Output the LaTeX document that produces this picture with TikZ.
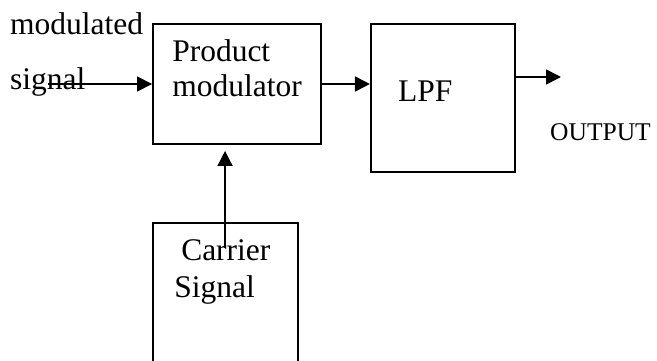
\documentclass[tikz,border=0pt]{standalone}
\usepackage{fontspec}
\setmainfont{Liberation Serif}
\usepackage{tikz}
\usetikzlibrary{positioning, arrows.meta, calc}

\begin{document}
\begin{tikzpicture}[
    x=1pt, y=-1pt,
    box/.style={draw, line width=1.9pt, inner sep=0pt},
    txt/.style={inner sep=0pt, anchor=base west, align=left, font=\fontsize{31.5}{36}\selectfont},
    signal/.style={-{Triangle[length=15pt, width=15pt]}, line width=1.7pt},
]
    \useasboundingbox (0,0) rectangle (657,361);
    \clip (0,0) rectangle (657,361);

    % Product modulator
    \node[box, minimum width=168pt, minimum height=120pt] (pm) at (237,84) {};
    \node[txt] (pmtext) at ($(pm.north west)+(20,73)$) {Product\\[-1pt]modulator};

    % LPF
    \node[box, minimum width=144pt, minimum height=148pt, right=48pt of pm.north east, anchor=north west] (lpf) {};
    \node[txt] (lpftext) at ($(lpf.north west)+(28,78)$) {LPF};

    % Carrier signal
    \node[box, minimum width=145pt, minimum height=160pt, below=77pt of pm.south west, anchor=north west] (carrier) {};
    \node[txt] (carriertext) at ($(carrier.north west)+(22,76)$) {\hspace{7pt}Carrier\\[1pt]Signal};

    % Input and output labels
    \node[txt] (modtext) at (10,35) {modulated};
    \node[txt] (sigtext) at (10,90) {signal};
    \node[txt, font=\fontsize{25.5}{30}\selectfont] (outtext) at (550,140) {OUTPUT};

    % Connector ends
    \coordinate (in) at (48,84);
    \coordinate (out) at (561,77);
    \coordinate (carrierin) at ($(carrier.north west)+(73,26)$);

    % Arrows
    \draw[signal] (in) -- (pm.west);
    \draw[signal] (pm.east) -- (pm.east -| lpf.west);
    \draw[signal] (lpf.east |- out) -- (out);
    \draw[signal, shorten >=6pt] (carrierin) -- (carrierin |- pm.south);

\end{tikzpicture}
\end{document}
